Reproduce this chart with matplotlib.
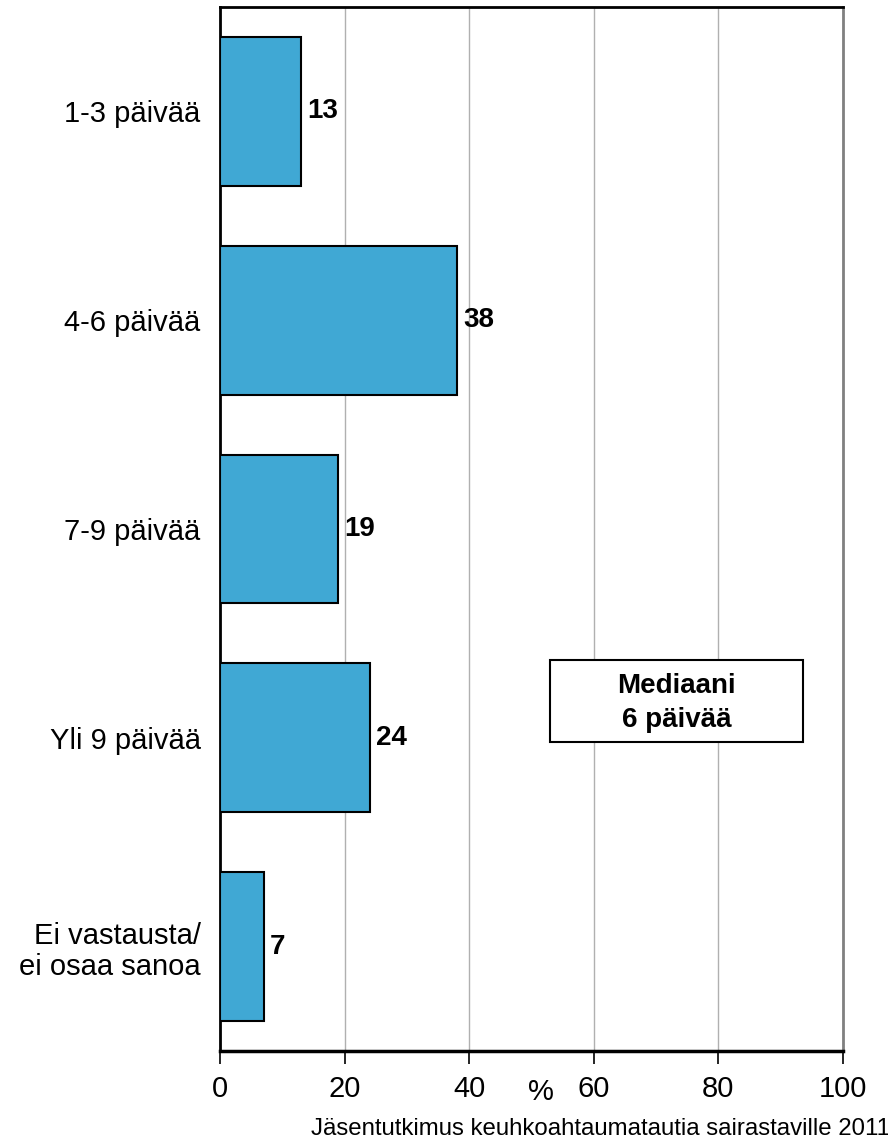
import matplotlib
matplotlib.use("Agg")
import matplotlib.pyplot as plt
from matplotlib.patches import Rectangle

categories = ["1-3 päivää", "4-6 päivää", "7-9 päivää", "Yli 9 päivää", "Ei vastausta/\nei osaa sanoa"]
values = [13, 38, 19, 24, 7]
xticks = [0, 20, 40, 60, 80, 100]
median_text = "Mediaani\n6 päivää"
caption = "Jäsentutkimus keuhkoahtaumatautia sairastaville 2011"

plt.rcParams['font.family'] = ['Liberation Sans', 'DejaVu Sans']

W, H = 888, 1140
fig = plt.figure(figsize=(W / 100, H / 100), dpi=100)
ax = fig.add_axes([220 / W, 1 - 1051 / H, (843 - 220) / W, (1051 - 7) / H])

ypos = list(range(len(categories)))
ax.barh(ypos, values, height=0.713, color="#40A8D4", edgecolor="black", linewidth=1.5, zorder=3)
ax.set_ylim(len(categories) - 0.5, -0.5)
ax.set_xlim(0, 100)

ax.set_xticks(xticks)
ax.set_xticklabels([str(t) for t in xticks], fontsize=21)
ax.tick_params(axis='x', length=9, width=1.2, pad=8, color="black")
ax.set_yticks(ypos)
ax.set_yticklabels(categories, fontsize=21, ha='right', linespacing=1.15)
ax.tick_params(axis='y', length=0, pad=14)

ax.grid(axis='x', color="#b0b0b0", linewidth=1.0, zorder=0)
ax.set_axisbelow(True)

ax.spines['left'].set_linewidth(2.0)
ax.spines['bottom'].set_linewidth(2.5)
ax.spines['top'].set_linewidth(2.0)
ax.spines['top'].set_color('black')
ax.spines['right'].set_linewidth(2.0)
ax.spines['right'].set_color('#808080')

for y, v in zip(ypos, values):
    ax.text(v + 1.0, y, str(v), va='center', ha='left', fontsize=20, fontweight='bold', zorder=4)

ax.add_patch(Rectangle((53.0, 2.627), 40.6, 0.393, facecolor='white', edgecolor='black',
                       linewidth=1.5, zorder=5))
ax.text(73.3, 2.833, median_text, ha='center', va='center',
        fontsize=20, fontweight='bold', linespacing=1.4, zorder=6)

fig.text(541 / W, 1 - 1092 / H, "%", ha='center', va='center', fontsize=21)
fig.text(311 / W, 1 - 1129 / H, caption, ha='left', va='center', fontsize=17.3)

fig.savefig("out.png", dpi=100)
